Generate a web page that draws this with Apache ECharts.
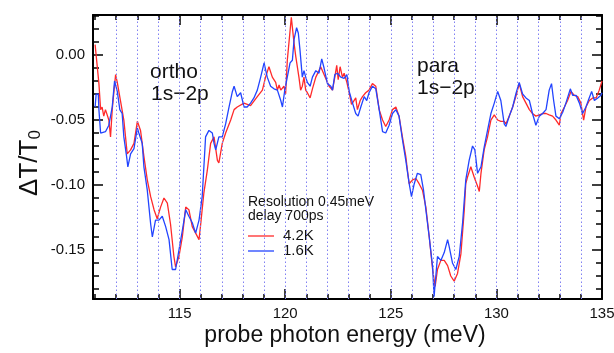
<!DOCTYPE html>
<html>
<head>
<meta charset="utf-8">
<script src="https://cdn.jsdelivr.net/npm/echarts@6/dist/echarts.min.js"></script>
<style>
  html, body { margin: 0; padding: 0; background: #fff; }
  #chart { width: 614px; height: 353px; }
</style>
</head>
<body>
<div id="chart"></div>
<script>
// Transmission change spectra of the 1s-2p exciton transitions
const energy42K = [111.00,111.18,111.26,111.33,111.41,111.49,111.65,111.73,111.81,111.97,112.05,112.20,112.36,112.44,112.52,112.68,112.84,113.00,113.15,113.31,113.47,113.63,113.79,113.94,114.10,114.26,114.42,114.57,114.73,114.81,114.97,115.13,115.29,115.44,115.60,115.76,115.92,116.00,116.15,116.31,116.47,116.63,116.79,116.86,117.02,117.18,117.42,117.58,117.73,118.05,118.36,118.68,118.92,119.07,119.23,119.39,119.55,119.63,119.71,119.79,119.94,120.02,120.10,120.29,120.34,120.42,120.50,120.65,120.73,120.81,120.89,120.97,121.05,121.18,121.29,121.45,121.60,121.68,121.76,121.92,122.08,122.24,122.35,122.44,122.51,122.60,122.71,122.79,122.92,123.03,123.14,123.26,123.34,123.42,123.55,123.66,123.81,123.97,124.13,124.29,124.45,124.61,124.76,124.92,125.08,125.24,125.39,125.55,125.71,125.79,125.87,126.03,126.19,126.34,126.50,126.66,126.82,126.98,127.10,127.21,127.37,127.53,127.69,127.84,128.00,128.16,128.32,128.48,128.55,128.63,128.79,128.95,129.11,129.19,129.27,129.42,129.58,129.74,129.90,130.06,130.21,130.37,130.45,130.61,130.77,130.92,131.08,131.24,131.40,131.56,131.71,131.87,132.03,132.19,132.35,132.50,132.66,132.82,132.98,133.06,133.22,133.37,133.53,133.69,133.85,134.00,134.13,134.24,134.40,134.56,134.72,134.87,135.00];
const dT42K = [0.008,-0.022,-0.042,-0.040,-0.047,-0.042,-0.050,-0.063,-0.042,-0.015,-0.021,-0.035,-0.050,-0.063,-0.076,-0.073,-0.068,-0.051,-0.058,-0.078,-0.096,-0.109,-0.119,-0.126,-0.117,-0.110,-0.114,-0.130,-0.155,-0.163,-0.155,-0.140,-0.117,-0.119,-0.132,-0.137,-0.142,-0.130,-0.106,-0.089,-0.068,-0.063,-0.081,-0.083,-0.068,-0.060,-0.050,-0.042,-0.040,-0.037,-0.039,-0.032,-0.027,-0.017,-0.009,-0.017,-0.021,-0.027,-0.023,-0.027,-0.024,-0.030,-0.004,0.029,0.030,0.009,-0.001,-0.017,-0.027,-0.024,-0.017,-0.027,-0.029,-0.033,-0.026,-0.017,-0.012,-0.009,-0.010,-0.018,-0.024,-0.027,-0.017,-0.008,-0.019,-0.009,-0.017,-0.014,-0.021,-0.029,-0.038,-0.035,-0.033,-0.042,-0.035,-0.032,-0.029,-0.027,-0.022,-0.024,-0.042,-0.050,-0.055,-0.050,-0.042,-0.040,-0.047,-0.063,-0.078,-0.089,-0.099,-0.096,-0.095,-0.099,-0.104,-0.117,-0.140,-0.165,-0.178,-0.165,-0.158,-0.158,-0.162,-0.170,-0.174,-0.168,-0.153,-0.119,-0.099,-0.094,-0.086,-0.094,-0.101,-0.105,-0.091,-0.073,-0.063,-0.050,-0.046,-0.050,-0.051,-0.051,-0.053,-0.047,-0.040,-0.032,-0.022,-0.032,-0.037,-0.042,-0.045,-0.047,-0.046,-0.045,-0.045,-0.046,-0.047,-0.050,-0.054,-0.045,-0.040,-0.035,-0.028,-0.031,-0.032,-0.037,-0.050,-0.040,-0.035,-0.033,-0.033,-0.027,-0.020];

const energy16K = [111.00,111.05,111.15,111.18,111.26,111.49,111.65,111.81,111.92,112.05,112.17,112.28,112.36,112.49,112.55,112.68,112.84,113.00,113.07,113.23,113.31,113.47,113.63,113.71,113.86,114.02,114.18,114.34,114.50,114.65,114.81,114.97,115.13,115.29,115.44,115.60,115.76,115.92,116.07,116.23,116.39,116.55,116.63,116.71,116.86,117.02,117.18,117.34,117.50,117.58,117.73,117.89,118.05,118.20,118.36,118.52,118.68,118.84,119.00,119.15,119.31,119.47,119.63,119.79,119.87,119.98,120.07,120.23,120.34,120.42,120.54,120.62,120.70,120.81,120.89,120.97,121.05,121.18,121.29,121.45,121.60,121.73,121.84,122.00,122.16,122.24,122.35,122.48,122.63,122.79,122.92,123.03,123.19,123.34,123.45,123.58,123.74,123.86,123.97,124.13,124.29,124.45,124.61,124.76,124.92,125.08,125.24,125.39,125.55,125.71,125.87,125.98,126.11,126.26,126.42,126.55,126.66,126.82,126.98,127.05,127.21,127.37,127.53,127.69,127.76,127.92,128.08,128.24,128.40,128.55,128.71,128.87,128.98,129.11,129.27,129.42,129.58,129.74,129.90,130.06,130.21,130.37,130.45,130.61,130.77,130.92,131.08,131.24,131.40,131.56,131.71,131.87,132.03,132.19,132.35,132.50,132.61,132.71,132.82,132.98,133.14,133.29,133.50,133.61,133.77,133.93,134.08,134.24,134.35,134.51,134.64,134.80,134.95,135.00];
const dT16K = [-0.040,-0.030,-0.030,-0.042,-0.060,-0.059,-0.054,-0.040,-0.020,-0.028,-0.042,-0.045,-0.063,-0.078,-0.086,-0.076,-0.072,-0.056,-0.060,-0.068,-0.086,-0.104,-0.130,-0.140,-0.127,-0.127,-0.124,-0.132,-0.142,-0.165,-0.165,-0.150,-0.135,-0.119,-0.124,-0.129,-0.137,-0.127,-0.109,-0.063,-0.058,-0.060,-0.068,-0.073,-0.063,-0.063,-0.053,-0.040,-0.028,-0.024,-0.032,-0.029,-0.040,-0.040,-0.037,-0.033,-0.027,-0.017,-0.006,-0.017,-0.024,-0.026,-0.027,-0.035,-0.040,-0.027,-0.027,-0.006,-0.004,0.012,0.021,0.017,0.004,-0.017,-0.012,-0.017,-0.021,-0.024,-0.017,-0.012,-0.014,-0.003,-0.010,-0.022,-0.024,-0.027,-0.015,-0.014,-0.017,-0.018,-0.015,-0.028,-0.037,-0.045,-0.047,-0.040,-0.032,-0.035,-0.029,-0.024,-0.026,-0.042,-0.059,-0.060,-0.054,-0.045,-0.042,-0.047,-0.065,-0.081,-0.099,-0.109,-0.099,-0.091,-0.092,-0.104,-0.119,-0.140,-0.163,-0.186,-0.155,-0.158,-0.152,-0.142,-0.147,-0.160,-0.165,-0.155,-0.129,-0.096,-0.081,-0.070,-0.073,-0.091,-0.086,-0.071,-0.058,-0.045,-0.037,-0.028,-0.035,-0.053,-0.055,-0.047,-0.040,-0.030,-0.021,-0.030,-0.033,-0.035,-0.045,-0.054,-0.047,-0.045,-0.042,-0.027,-0.022,-0.035,-0.047,-0.049,-0.044,-0.037,-0.026,-0.031,-0.031,-0.037,-0.045,-0.040,-0.035,-0.028,-0.035,-0.033,-0.031,-0.029];

const seriesNames = ['4.2K', '1.6K'];
const seriesColors = ['#ff2a2a', '#2244ff'];
const xMajorTicks = [115, 120, 125, 130, 135];
const xMinorTicks = [111,112,113,114,115,116,117,118,119,120,121,122,123,124,125,126,127,128,129,130,131,132,133,134,135];
const yMajorTicks = [0.00, -0.05, -0.10, -0.15];
const yMinorTicks = [0.03,0.02,0.01,0.00,-0.01,-0.02,-0.03,-0.04,-0.05,-0.06,-0.07,-0.08,-0.09,-0.10,-0.11,-0.12,-0.13,-0.14,-0.15,-0.16,-0.17,-0.18];
const gridLineEnergies = [112,113,114,115,116,117,118,119,120,121,122,123,124,125,126,127,128,129,130,131,132,133,134];

const X_MIN = 110.9, X_MAX = 135;
const Y_MIN = -0.1877, Y_MAX = 0.0308;
const FONT = 'Liberation Sans, Arial, sans-serif';

const chart = echarts.init(document.getElementById('chart'), null, { renderer: 'canvas' });

function xAxisDef(position, ticks, len, withLine, withLabel) {
  return {
    type: 'value', position: position, min: X_MIN, max: X_MAX,
    axisLine: { show: withLine, onZero: false, lineStyle: { color: '#000', width: 2 } },
    axisTick: { show: true, inside: true, length: len, customValues: ticks,
                lineStyle: { color: '#000', width: 1.5 } },
    axisLabel: withLabel
      ? { show: true, customValues: xMajorTicks, fontSize: 15, color: '#111', margin: 7, fontFamily: FONT }
      : { show: false },
    splitLine: { show: false }
  };
}
function yAxisDef(position, ticks, len, withLine, withLabel) {
  return {
    type: 'value', position: position, min: Y_MIN, max: Y_MAX,
    axisLine: { show: withLine, onZero: false, lineStyle: { color: '#000', width: 2 } },
    axisTick: { show: true, inside: true, length: len, customValues: ticks,
                lineStyle: { color: '#000', width: 1.5 } },
    axisLabel: withLabel
      ? { show: true, customValues: yMajorTicks, fontSize: 15, color: '#111', margin: 8, fontFamily: FONT,
          formatter: v => v.toFixed(2) }
      : { show: false },
    splitLine: { show: false }
  };
}

// hand-made key: short coloured strokes followed by the series name
const keyLeft = 248, keyTop = 236, keyStep = 15, keyLen = 26;
const keyItems = [];
seriesNames.forEach((name, i) => {
  const y = keyTop + i * keyStep;
  keyItems.push({ type: 'line', silent: true,
    shape: { x1: keyLeft, y1: y, x2: keyLeft + keyLen, y2: y },
    style: { stroke: seriesColors[i], lineWidth: 1.3 } });
  keyItems.push({ type: 'text', silent: true, x: keyLeft + keyLen + 9, y: y,
    style: { text: name, fontSize: 15, fontFamily: FONT, fill: '#111', verticalAlign: 'middle' } });
});

const option = {
  animation: false,
  backgroundColor: '#fff',
  grid: { left: 93, right: 12, top: 15, bottom: 54, containLabel: false, outerBoundsMode: 'none' },
  xAxis: [
    xAxisDef('bottom', xMajorTicks, 10, true, true),
    xAxisDef('bottom', xMinorTicks, 5, false, false),
    xAxisDef('top', xMajorTicks, 10, true, false),
    xAxisDef('top', xMinorTicks, 5, false, false)
  ],
  yAxis: [
    yAxisDef('left', yMajorTicks, 10, true, true),
    yAxisDef('left', yMinorTicks, 6, false, false),
    yAxisDef('right', yMajorTicks, 10, true, false),
    yAxisDef('right', yMinorTicks, 6, false, false)
  ],
  graphic: [
    { type: 'text', left: 150, top: 62, style: { text: 'ortho', fontSize: 21, fontFamily: FONT, fill: '#111' } },
    { type: 'text', left: 151, top: 84, style: { text: '1s\u22122p', fontSize: 21, fontFamily: FONT, fill: '#111' } },
    { type: 'text', left: 417, top: 56, style: { text: 'para', fontSize: 21, fontFamily: FONT, fill: '#111' } },
    { type: 'text', left: 417, top: 78, style: { text: '1s\u22122p', fontSize: 21, fontFamily: FONT, fill: '#111' } },
    { type: 'text', left: 248, top: 195, style: { text: 'Resolution 0.45meV', fontSize: 14, fontFamily: FONT, fill: '#111' } },
    { type: 'text', left: 248, top: 209, style: { text: 'delay 700ps', fontSize: 14, fontFamily: FONT, fill: '#111' } },
    { type: 'text', x: 345, y: 336, style: { text: 'probe photon energy (meV)', fontSize: 23, fontFamily: FONT,
        fill: '#111', align: 'center', verticalAlign: 'middle' } },
    { type: 'text', x: 30, y: 163, rotation: Math.PI / 2,
      style: { text: '{a|\u0394T/T}{b|0}', align: 'center', verticalAlign: 'middle',
        rich: { a: { fontSize: 26, fontFamily: FONT, fill: '#111', color: '#111' },
                b: { fontSize: 17, fontFamily: FONT, fill: '#111', color: '#111', verticalAlign: 'bottom', padding: [10, 0, 0, 0] } } } }
  ].concat(keyItems),
  series: [
    {
      type: 'line', name: 'energy grid', data: [], silent: true, z: 1,
      markLine: {
        silent: true, symbol: ['none', 'none'], label: { show: false },
        lineStyle: { color: '#8080f2', type: [1.5, 2.5], width: 1 },
        emphasis: { disabled: true },
        data: gridLineEnergies.map(e => ({ xAxis: e }))
      }
    },
    {
      type: 'line', name: seriesNames[0], showSymbol: false, symbol: 'none', clip: true, z: 3,
      lineStyle: { color: seriesColors[0], width: 1.3 }, itemStyle: { color: seriesColors[0] },
      data: energy42K.map((e, i) => [e, dT42K[i]])
    },
    {
      type: 'line', name: seriesNames[1], showSymbol: false, symbol: 'none', clip: true, z: 4,
      lineStyle: { color: seriesColors[1], width: 1.3 }, itemStyle: { color: seriesColors[1] },
      data: energy16K.map((e, i) => [e, dT16K[i]])
    }
  ]
};
chart.setOption(option);
</script>
</body>
</html>
